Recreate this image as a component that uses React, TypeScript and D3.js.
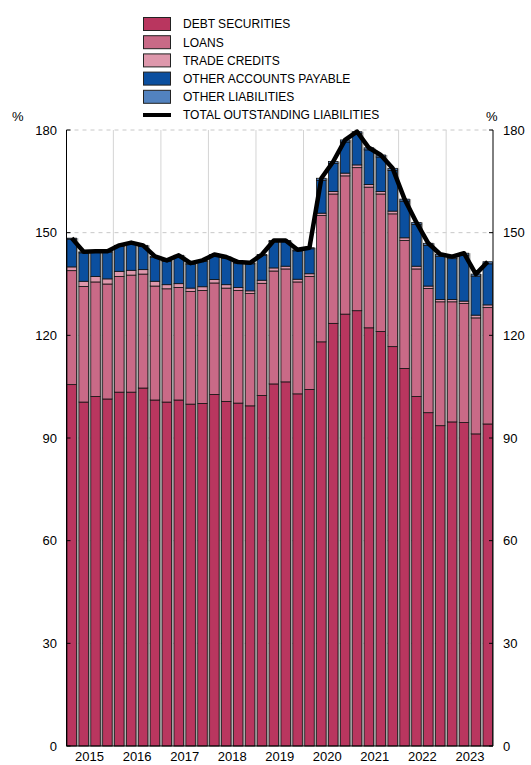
import { useEffect, useRef } from 'react'
import * as d3 from 'd3'

// quarterly, 2015 Q1 - 2023 Q4
const years = ['2015', '2016', '2017', '2018', '2019', '2020', '2021', '2022', '2023']
const quarters = years.flatMap(y => ['Q1', 'Q2', 'Q3', 'Q4'].map(q => `${y}${q}`))

const debtSecurities = [
  105.6, 100.5, 102.1, 101.4, 103.4, 103.4, 104.6, 101.1, 100.5, 101.1, 99.9, 100.1,
  102.7, 100.7, 100.2, 99.4, 102.4, 105.8, 106.4, 102.9, 104.2, 118.1, 123.5, 126.2,
  127.2, 122.2, 121.1, 116.7, 110.3, 102.1, 97.4, 93.6, 94.7, 94.5, 91.2, 94.1,
]
const loans = [
  33.3, 33.8, 33.5, 33.6, 33.8, 34.2, 33.3, 33.3, 33.1, 32.9, 32.9, 33.0,
  32.6, 33.1, 32.9, 32.8, 32.8, 33.0, 33.0, 32.7, 33.0, 36.9, 37.8, 40.4,
  41.8, 41.1, 40.2, 38.8, 37.4, 37.3, 36.3, 36.2, 35.1, 34.8, 33.9, 34.0,
]
const tradeCredits = [
  1.1, 1.5, 1.6, 1.5, 1.5, 1.4, 1.3, 1.4, 1.2, 1.1, 1.0, 1.1,
  1.0, 1.0, 0.9, 0.8, 0.9, 0.9, 0.8, 0.8, 0.8, 0.7, 0.7, 0.8,
  0.8, 0.8, 0.7, 0.8, 0.8, 0.8, 0.7, 0.7, 0.7, 0.7, 0.8, 0.8,
]
const otherPayable = [
  8.1, 8.3, 7.1, 7.8, 7.3, 7.8, 6.8, 7.0, 6.8, 8.0, 7.0, 7.4,
  7.0, 7.8, 7.1, 7.9, 7.2, 7.7, 7.2, 8.3, 7.3, 9.6, 8.2, 9.1,
  9.1, 10.1, 10.1, 11.9, 10.7, 12.2, 11.9, 12.6, 11.9, 13.4, 11.4, 12.0,
]
const otherLiabilities = [
  0.3, 0.3, 0.3, 0.3, 0.3, 0.3, 0.3, 0.3, 0.3, 0.3, 0.3, 0.3,
  0.3, 0.3, 0.3, 0.3, 0.3, 0.3, 0.3, 0.3, 0.3, 0.6, 0.6, 0.6,
  0.6, 0.6, 0.6, 0.6, 0.6, 0.6, 0.6, 0.6, 0.6, 0.6, 0.6, 0.6,
]
const totalLiabilities = [
  148.4, 144.4, 144.6, 144.6, 146.3, 147.1, 146.3, 143.1, 141.9, 143.4, 141.1, 141.9,
  143.6, 142.9, 141.4, 141.2, 143.6, 147.7, 147.7, 145.0, 145.6, 165.9, 170.8, 177.1,
  179.5, 174.8, 172.7, 168.8, 159.8, 153.0, 146.9, 143.7, 143.0, 144.0, 137.9, 141.5,
]
const yTicks = [0, 30, 60, 90, 120, 150, 180]

const seriesNames = ['DEBT SECURITIES', 'LOANS', 'TRADE CREDITS', 'OTHER ACCOUNTS PAYABLE', 'OTHER LIABILITIES']
const seriesValues = [debtSecurities, loans, tradeCredits, otherPayable, otherLiabilities]
const colors = ['#b9365f', '#c96a87', '#de98ac', '#0b4f9f', '#5282bf']

const FONT = '"Liberation Sans", Arial, sans-serif'

export default function App() {
  const svgRef = useRef<SVGSVGElement>(null)

  useEffect(() => {
    if (!svgRef.current) return
    const svg = d3.select(svgRef.current)
    svg.selectAll('*').remove()

    const left = 66.5
    const right = 493
    const top = 130
    const bottom = 746

    const x = d3.scaleBand().domain(quarters).range([left + 0.5, right - 0.5]).paddingInner(0.2).paddingOuter(0)
    const y = d3.scaleLinear().domain([0, 180]).range([bottom, top])
    const gap = x.step() - x.bandwidth()

    // gridlines
    svg.append('g')
      .selectAll('line')
      .data(yTicks.filter(t => t > 0))
      .enter()
      .append('line')
      .attr('x1', left)
      .attr('x2', right)
      .attr('y1', d => y(d))
      .attr('y2', d => y(d))
      .attr('stroke', '#c8c8c8')
      .attr('stroke-width', 1)
      .attr('stroke-dasharray', '4,4')

    svg.append('g')
      .selectAll('line')
      .data(years.slice(1))
      .enter()
      .append('line')
      .attr('x1', d => (x(`${d}Q1`) || 0) - gap / 2)
      .attr('x2', d => (x(`${d}Q1`) || 0) - gap / 2)
      .attr('y1', top)
      .attr('y2', bottom)
      .attr('stroke', '#d4d4d4')
      .attr('stroke-width', 1)

    // stacked data
    const rows = quarters.map((q, i) => {
      const r: any = { q }
      seriesNames.forEach((n, k) => { r[n] = seriesValues[k][i] })
      return r
    })
    const stacked = d3.stack<any>().keys(seriesNames)(rows)
    const topLayer = stacked[stacked.length - 1]

    // grey shadow between bars
    svg.append('g')
      .selectAll('rect')
      .data(quarters.slice(0, -1))
      .enter()
      .append('rect')
      .attr('x', d => (x(d) || 0) + x.bandwidth())
      .attr('width', gap - 0.6)
      .attr('y', (d, i) => y(topLayer[i][1]))
      .attr('height', (d, i) => bottom - y(topLayer[i][1]))
      .attr('fill', '#a3a3a3')

    stacked.forEach((layer, k) => {
      svg.append('g')
        .selectAll('rect')
        .data(layer)
        .enter()
        .append('rect')
        .attr('x', d => x(d.data.q) || 0)
        .attr('width', x.bandwidth())
        .attr('y', d => y(d[1]))
        .attr('height', d => y(d[0]) - y(d[1]))
        .attr('fill', colors[k])
        .attr('stroke', '#111')
        .attr('stroke-width', 0.8)
    })

    // total line
    const line = d3.line<number>()
      .x((d, i) => (x(quarters[i]) || 0) + x.bandwidth() / 2)
      .y(d => y(d))
    svg.append('path')
      .attr('d', line(totalLiabilities))
      .attr('fill', 'none')
      .attr('stroke', '#000')
      .attr('stroke-width', 4.5)
      .attr('stroke-linejoin', 'round')

    // axes
    const axes = svg.append('g').attr('stroke', '#000').attr('stroke-width', 1)
    axes.append('line').attr('x1', left).attr('x2', left).attr('y1', top).attr('y2', bottom)
    axes.append('line').attr('x1', right).attr('x2', right).attr('y1', top).attr('y2', bottom)
    axes.append('line').attr('x1', left).attr('x2', right).attr('y1', bottom).attr('y2', bottom)
    yTicks.forEach(t => {
      axes.append('line').attr('x1', left).attr('x2', left + 4).attr('y1', y(t)).attr('y2', y(t))
      axes.append('line').attr('x1', right - 4).attr('x2', right).attr('y1', y(t)).attr('y2', y(t))
    })

    const labels = svg.append('g').style('font-family', FONT).style('font-size', '13px').attr('fill', '#000')
    yTicks.forEach(t => {
      labels.append('text').attr('x', 57).attr('y', y(t)).attr('dy', '0.36em').attr('text-anchor', 'end').text(t)
      labels.append('text').attr('x', 503).attr('y', y(t)).attr('dy', '0.36em').attr('text-anchor', 'start').text(t)
    })
    labels.append('text').attr('x', 12).attr('y', 121).text('%')
    labels.append('text').attr('x', 486).attr('y', 121).text('%')

    labels.selectAll('.year')
      .data(years)
      .enter()
      .append('text')
      .attr('class', 'year')
      .attr('x', d => ((x(`${d}Q1`) || 0) + (x(`${d}Q4`) || 0) + x.bandwidth()) / 2)
      .attr('y', 761)
      .attr('text-anchor', 'middle')
      .text(d => d)

    // legend
    const legend = svg.append('g').style('font-family', FONT).style('font-size', '12px')
    const legendItems = [...seriesNames, 'TOTAL OUTSTANDING LIABILITIES']
    legendItems.forEach((name, i) => {
      const cy = 24 + i * 18.2
      if (i < seriesNames.length) {
        legend.append('rect')
          .attr('x', 143.5)
          .attr('y', cy - 6.5)
          .attr('width', 27)
          .attr('height', 13)
          .attr('fill', colors[i])
          .attr('stroke', '#222')
          .attr('stroke-width', 1)
      } else {
        legend.append('line')
          .attr('x1', 143)
          .attr('x2', 171)
          .attr('y1', cy)
          .attr('y2', cy)
          .attr('stroke', '#000')
          .attr('stroke-width', 4)
      }
      legend.append('text')
        .attr('x', 183)
        .attr('y', cy)
        .attr('dy', '0.36em')
        .text(name)
    })
  }, [])

  return (
    <svg
      ref={svgRef}
      width={531}
      height={765}
      style={{ position: 'absolute', left: 0, top: 0, background: '#fff' }}
    />
  )
}
